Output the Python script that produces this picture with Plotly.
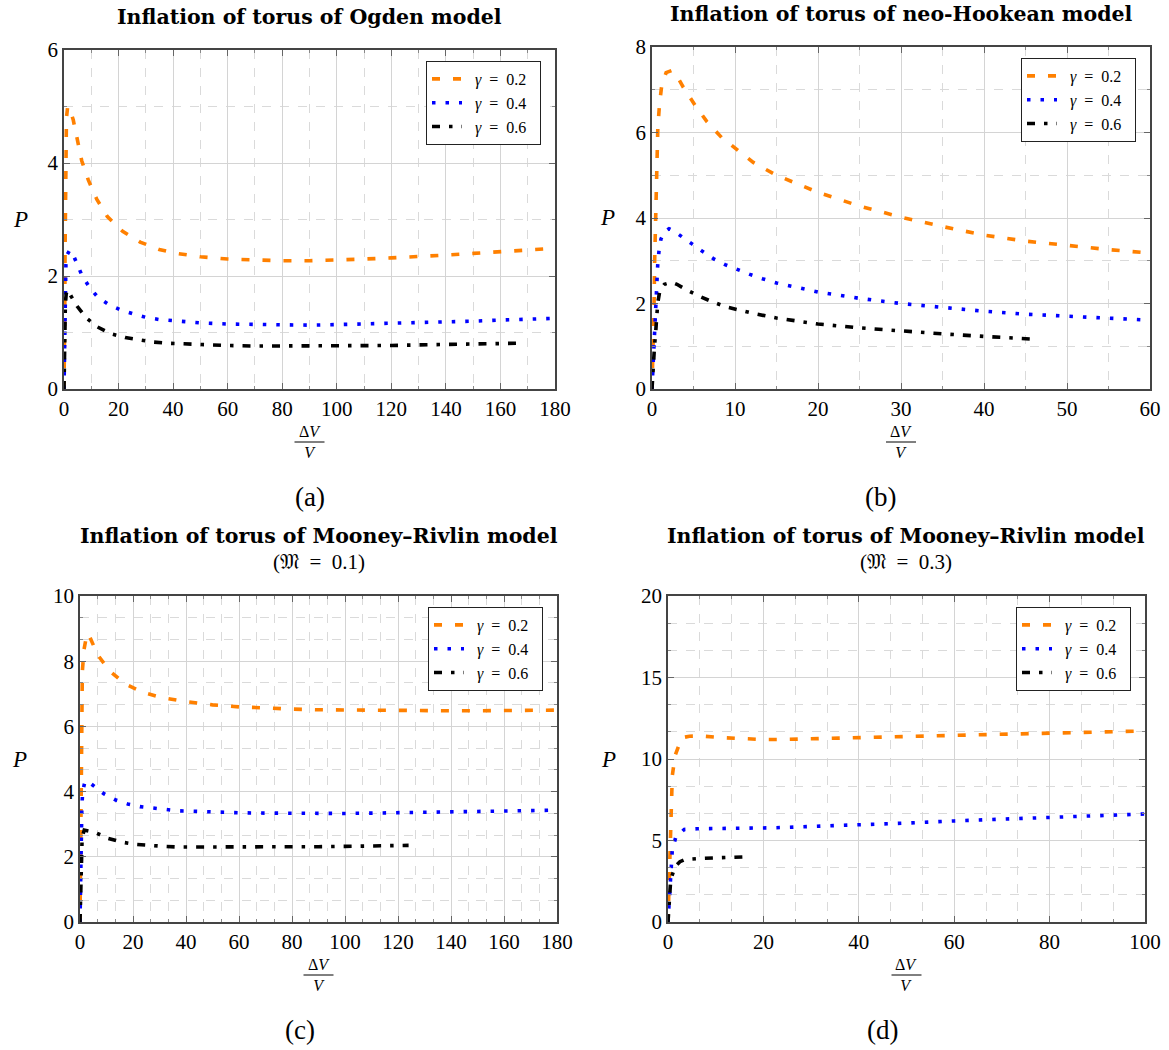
import plotly.graph_objects as go

W, H = 1169, 1050
FONT = "Liberation Serif"
TFONT = "DejaVu Serif"

# ---------------- data ----------------
gamma_labels = ["\u2002<i>γ</i>\u2002=\u20020.2\u2002", "\u2002<i>γ</i>\u2002=\u20020.4\u2002",
                "\u2002<i>γ</i>\u2002=\u20020.6\u2002"]

# (a) Ogden
ogden_x_02 = [0, 0.15, 0.3, 0.4, 0.5, 0.65, 0.9, 1.35, 2.2, 3.4, 5.0, 6.5, 8.9, 12, 15.9, 21.5, 27.9, 34.9, 40,
              50, 60, 70, 80, 90, 100, 110, 120, 130, 140, 150, 160, 170, 180]
ogden_y_02 = [0, 0.5, 1.5, 2.5, 3.5, 4.3, 4.8, 5.0, 4.95, 4.76, 4.41, 4.04, 3.70, 3.36, 3.05, 2.79, 2.60, 2.47, 2.41,
              2.34, 2.30, 2.28, 2.27, 2.27, 2.28, 2.30, 2.32, 2.34, 2.37, 2.40, 2.43, 2.46, 2.49]
ogden_x_04 = [0, 0.1, 0.2, 0.3, 0.45, 0.7, 1.2, 2.0, 2.8, 4.6, 6.5, 9.2, 12.3, 16.2, 20.8, 25.4, 29.9, 34.8, 39.7,
              50, 60, 70, 80, 90, 100, 110, 120, 130, 140, 150, 160, 170, 180]
ogden_y_04 = [0, 0.5, 1.0, 1.5, 1.9, 2.2, 2.38, 2.45, 2.44, 2.22, 2.02, 1.81, 1.63, 1.50, 1.40, 1.33, 1.27, 1.23, 1.21,
              1.17, 1.15, 1.14, 1.13, 1.13, 1.14, 1.15, 1.16, 1.17, 1.19, 1.20, 1.22, 1.23, 1.25]
ogden_x_06 = [0, 0.1, 0.2, 0.3, 0.5, 0.8, 1.2, 1.6, 2.5, 4.9, 8.1, 12.2, 17.1, 22.4, 27.6, 33, 38.2,
              50, 60, 70, 80, 90, 100, 110, 120, 130, 140, 150, 160, 167]
ogden_y_06 = [0, 0.4, 0.8, 1.2, 1.5, 1.68, 1.75, 1.74, 1.65, 1.46, 1.26, 1.10, 0.98, 0.91, 0.87, 0.83, 0.81,
              0.78, 0.77, 0.76, 0.76, 0.76, 0.76, 0.77, 0.77, 0.78, 0.79, 0.80, 0.80, 0.81]

# (b) neo-Hookean
neo_x_02 = [0, 0.15, 0.25, 0.32, 0.42, 0.5, 0.58, 0.7, 0.9, 1.17, 1.7, 2.37, 3.0, 3.77, 5.18, 6.59, 8.4, 10.28,
            12.2, 15, 20, 25, 30, 35, 40, 45, 50, 55, 60]
neo_y_02 = [0, 1.0, 2.0, 3.0, 4.0, 4.8, 5.5, 6.1, 6.65, 7.1, 7.4, 7.45, 7.32, 7.06, 6.64, 6.26, 5.88, 5.59,
            5.30, 5.0, 4.6, 4.28, 4.02, 3.80, 3.60, 3.46, 3.35, 3.26, 3.18]
neo_x_04 = [0, 0.1, 0.2, 0.3, 0.45, 0.6, 0.69, 0.84, 1.08, 1.5, 2.05, 2.6, 3.45, 4.78, 6.07, 7.39, 8.8, 10.3,
            11.8, 13.3, 15, 20, 25, 30, 35, 40, 45, 50, 55, 60]
neo_y_04 = [0, 0.5, 1.0, 1.5, 2.1, 2.6, 2.91, 3.22, 3.51, 3.68, 3.75, 3.70, 3.59, 3.40, 3.22, 3.05, 2.91, 2.79,
            2.68, 2.58, 2.48, 2.27, 2.12, 2.00, 1.90, 1.82, 1.75, 1.70, 1.65, 1.61]
neo_x_06 = [0, 0.1, 0.2, 0.3, 0.45, 0.6, 0.69, 0.96, 1.5, 2.37, 3.0, 4.06, 5.58, 7.27, 8.92, 10.7, 12.4, 15,
            20, 25, 30, 35, 40, 46.5]
neo_y_06 = [0, 0.4, 0.7, 1.0, 1.35, 1.7, 2.01, 2.32, 2.45, 2.50, 2.45, 2.33, 2.18, 2.04, 1.92, 1.84, 1.76, 1.66,
            1.52, 1.43, 1.35, 1.29, 1.23, 1.16]

# (c) Mooney-Rivlin M = 0.1
mr1_x_02 = [0, 0.15, 0.3, 0.4, 0.5, 0.6, 0.75, 0.88, 1.5, 2.4, 3.1, 4.5, 6.7, 11.1, 17, 23.9, 31, 38.4,
            50, 60, 70, 80, 90, 100, 110, 120, 130, 140, 150, 160, 170, 180]
mr1_y_02 = [0, 1.2, 2.5, 3.8, 5.0, 6.0, 7.0, 7.68, 8.35, 8.75, 8.85, 8.6, 8.19, 7.71, 7.30, 7.04, 6.88, 6.78,
            6.66, 6.60, 6.56, 6.53, 6.51, 6.50, 6.49, 6.48, 6.48, 6.48, 6.48, 6.48, 6.49, 6.50]
mr1_x_04 = [0, 0.1, 0.2, 0.3, 0.45, 0.7, 1.0, 1.9, 3.5, 5.4, 9.1, 13.5, 18, 22.6, 27.4, 32, 37.1, 41.9,
            50, 60, 70, 80, 90, 100, 110, 120, 130, 140, 150, 160, 170, 180]
mr1_y_04 = [0, 0.6, 1.3, 2.0, 2.8, 3.5, 4.0, 4.32, 4.28, 4.17, 3.93, 3.74, 3.62, 3.54, 3.49, 3.45, 3.41, 3.40,
            3.37, 3.35, 3.34, 3.33, 3.33, 3.33, 3.34, 3.35, 3.36, 3.37, 3.38, 3.40, 3.41, 3.43]
mr1_x_06 = [0, 0.1, 0.2, 0.3, 0.5, 0.8, 1.6, 3.0, 5.7, 10.4, 15.7, 21.1, 26.5, 31.8, 37.1, 42.4,
            50, 60, 70, 80, 90, 100, 110, 124]
mr1_y_06 = [0, 0.5, 1.0, 1.6, 2.2, 2.6, 2.82, 2.80, 2.75, 2.57, 2.45, 2.38, 2.34, 2.32, 2.30, 2.30,
            2.29, 2.29, 2.29, 2.30, 2.31, 2.32, 2.33, 2.35]

# (d) Mooney-Rivlin M = 0.3
mr3_x_02 = [0, 0.15, 0.3, 0.45, 0.6, 0.75, 0.9, 1.47, 2.87, 4.5, 6.9, 11.3, 15.3, 19.6, 24, 30,
            40, 50, 60, 70, 80, 90, 100]
mr3_y_02 = [0, 1.5, 3.0, 4.5, 6.0, 7.5, 8.96, 10.2, 11.3, 11.4, 11.41, 11.31, 11.24, 11.2, 11.2, 11.23,
            11.3, 11.38, 11.45, 11.52, 11.58, 11.65, 11.72]
mr3_x_04 = [0, 0.1, 0.2, 0.35, 0.5, 0.7, 0.9, 1.6, 3.4, 6.1, 8.8, 11.4, 14, 16.8, 19.5, 22.2,
            30, 40, 50, 60, 70, 80, 90, 100]
mr3_y_04 = [0, 0.6, 1.3, 2.2, 2.9, 3.6, 4.42, 5.17, 5.68, 5.72, 5.72, 5.72, 5.73, 5.75, 5.77, 5.78,
            5.85, 5.95, 6.07, 6.20, 6.32, 6.43, 6.53, 6.63]
mr3_x_06 = [0, 0.1, 0.2, 0.35, 0.5, 0.8, 1.47, 2.5, 3.6, 6.7, 9.7, 12.6, 16.5]
mr3_y_06 = [0, 0.5, 1.0, 1.7, 2.3, 2.8, 3.39, 3.70, 3.84, 3.90, 3.95, 3.96, 4.00]

titles = [
    "<b>Inflation of torus of Ogden model</b>",
    "<b>Inflation of torus of neo-Hookean model</b>",
    "<b>Inflation of torus of Mooney–Rivlin model</b>",
    "<b>Inflation of torus of Mooney–Rivlin model</b>",
]
subtitles = [None, None, "(𝔐\u2002=\u20020.1)", "(𝔐\u2002=\u20020.3)"]
captions = ["(a)", "(b)", "(c)", "(d)"]

# ---------------- styles ----------------
COLORS = ["#ff8000", "#0000ff", "#000000"]
DASHES = ["8px,13px", "3.5px,10px", "8px,9px,3.5px,9px"]
LW = 3.6

# panel geometry in pixels (left, right, top, bottom)
boxes = [(64, 555, 50, 389), (652, 1150, 47, 389), (80, 557, 596, 922), (668, 1145, 596, 922)]
xranges = [[0, 180], [0, 60], [0, 180], [0, 100]]
yranges = [[0, 6], [0, 8], [0, 10], [0, 20]]
xdt = [(20, 10), (10, 5), (20, 20 / 3), (20, 20 / 3)]
ydt = [(2, 1), (2, 1), (2, 2 / 3), (5, 5 / 3)]
caption_x = [310, 880, 300, 882]
plabel_off = [44, 45, 61, 60]


def px(x):
    return x / W


def py(y):
    return 1 - y / H


series = [
    [(ogden_x_02, ogden_y_02), (ogden_x_04, ogden_y_04), (ogden_x_06, ogden_y_06)],
    [(neo_x_02, neo_y_02), (neo_x_04, neo_y_04), (neo_x_06, neo_y_06)],
    [(mr1_x_02, mr1_y_02), (mr1_x_04, mr1_y_04), (mr1_x_06, mr1_y_06)],
    [(mr3_x_02, mr3_y_02), (mr3_x_04, mr3_y_04), (mr3_x_06, mr3_y_06)],
]

fig = go.Figure()
layout = dict(
    template="none",
    width=W, height=H, autosize=False,
    margin=dict(l=0, r=0, t=0, b=0, pad=0),
    paper_bgcolor="white", plot_bgcolor="white",
    font=dict(family=FONT, color="black"),
    hovermode=False,
)

annotations = []
shapes = []

for i in range(4):
    n = "" if i == 0 else str(i + 1)
    L, R, T, B = boxes[i]
    legname = "legend" if i == 0 else f"legend{i + 1}"
    for k, (xs, ys) in enumerate(series[i]):
        fig.add_trace(go.Scatter(
            x=xs, y=ys, mode="lines", name=gamma_labels[k],
            line=dict(color=COLORS[k], width=LW, dash=DASHES[k]),
            xaxis="x" + n, yaxis="y" + n, legend=legname, hoverinfo="skip",
        ))

    common = dict(
        automargin=False,
        showline=True, linecolor="#444444", linewidth=1.5, mirror="allticks",
        ticks="inside", ticklen=6, tickcolor="#666666", tickwidth=1,
        showgrid=True, gridcolor="#d4d4d4", gridwidth=1, zeroline=False,
        tick0=0, tickfont=dict(family=FONT, size=21, color="black"),
    )
    layout["xaxis" + n] = dict(
        common, domain=[px(L), px(R)], anchor="y" + n, range=xranges[i], dtick=xdt[i][0],
        minor=dict(dtick=xdt[i][1], tick0=0, ticks="inside", ticklen=3, tickcolor="#888888",
                   showgrid=True, gridcolor="#dadada", griddash="dash", gridwidth=1),
    )
    layout["yaxis" + n] = dict(
        common, domain=[py(B), py(T)], anchor="x" + n, range=yranges[i], dtick=ydt[i][0],
        minor=dict(dtick=ydt[i][1], tick0=0, ticks="inside", ticklen=3, tickcolor="#888888",
                   showgrid=True, gridcolor="#dadada", griddash="dash", gridwidth=1),
    )
    layout[legname] = dict(
        x=px(R - 14), y=py(T + 11), xanchor="right", yanchor="top",
        bgcolor="white", bordercolor="#222222", borderwidth=1,
        font=dict(family=FONT, size=16, color="black"), tracegroupgap=0,
    )

    cx = (L + R) / 2
    # titles
    if subtitles[i] is None:
        annotations.append(dict(x=px(cx), y=py(T - 33), xref="paper", yref="paper", text=titles[i],
                                showarrow=False, font=dict(family=TFONT, size=20.5), xanchor="center",
                                yanchor="middle"))
    else:
        annotations.append(dict(x=px(cx), y=py(T - 60), xref="paper", yref="paper", text=titles[i],
                                showarrow=False, font=dict(family=TFONT, size=20.5), xanchor="center",
                                yanchor="middle"))
        annotations.append(dict(x=px(cx), y=py(T - 34), xref="paper", yref="paper", text=subtitles[i],
                                showarrow=False, font=dict(family=FONT, size=21), xanchor="center",
                                yanchor="middle"))
    # y label
    annotations.append(dict(x=px(L - plabel_off[i]), y=py((T + B) / 2), xref="paper", yref="paper", text="<i>P</i>",
                            showarrow=False, font=dict(family=FONT, size=23), xanchor="center", yanchor="middle"))
    # x label (fraction)
    annotations.append(dict(x=px(cx), y=py(B + 53), xref="paper", yref="paper", text="Δ<i>V</i><br><i>V</i>",
                            showarrow=False, font=dict(family=FONT, size=16), xanchor="center", yanchor="middle"))
    shapes.append(dict(type="line", xref="paper", yref="paper", x0=px(cx - 15), x1=px(cx + 15),
                       y0=py(B + 53), y1=py(B + 53), line=dict(color="black", width=1)))
    # caption
    annotations.append(dict(x=px(caption_x[i]), y=py(B + 108), xref="paper", yref="paper", text=captions[i],
                            showarrow=False, font=dict(family=FONT, size=27), xanchor="center", yanchor="middle"))

layout["annotations"] = annotations
layout["shapes"] = shapes
fig.update_layout(**layout)
fig.write_html(
    "out.html",
    config={"displayModeBar": False, "responsive": False},
    post_script="document.body.style.margin='0px';document.body.style.overflow='hidden';",
)
